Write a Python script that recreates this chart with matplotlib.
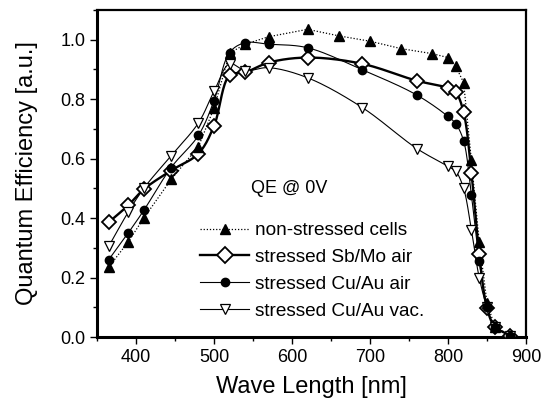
import numpy as np
import matplotlib
matplotlib.use("Agg")
import matplotlib.pyplot as plt
from matplotlib.ticker import MultipleLocator, FormatStrFormatter

plt.rcParams['font.family'] = ['Liberation Sans', 'DejaVu Sans']

# ---- data ----
x_ns = [365, 390, 410, 445, 480, 500, 520, 540, 570, 620, 660, 700, 740, 780,
        800, 810, 820, 830, 840, 850, 860, 880]
y_ns = [0.235, 0.32, 0.40, 0.53, 0.64, 0.77, 0.955, 0.985, 1.01, 1.035, 1.013,
        0.995, 0.97, 0.953, 0.94, 0.91, 0.856, 0.594, 0.32, 0.115, 0.035, 0.005]

x_st = [365, 390, 410, 445, 480, 500, 520, 540, 570, 620, 690, 760, 800, 810,
        820, 830, 840, 850, 860, 880]
y_sbmo = [0.386, 0.443, 0.497, 0.56, 0.617, 0.71, 0.88, 0.89, 0.923, 0.94,
          0.919, 0.862, 0.838, 0.823, 0.756, 0.553, 0.28, 0.098, 0.035, 0.005]
y_cuau_air = [0.26, 0.35, 0.426, 0.57, 0.678, 0.795, 0.957, 0.99, 0.985, 0.973,
              0.899, 0.814, 0.742, 0.717, 0.66, 0.477, 0.255, 0.10, 0.035, 0.005]
y_cuau_vac = [0.305, 0.42, 0.50, 0.61, 0.72, 0.826, 0.919, 0.896, 0.906, 0.872,
              0.772, 0.634, 0.574, 0.557, 0.50, 0.36, 0.20, 0.10, 0.035, 0.005]

labels = ["non-stressed cells", "stressed Sb/Mo air",
          "stressed Cu/Au air", "stressed Cu/Au vac."]


def catmull_rom(x, y, n=20):
    x = np.asarray(x, float)
    y = np.asarray(y, float)
    sx = (x - x.min()) / 550.0 * 429
    sy = y / 1.1 * 327
    P = np.column_stack([sx, sy])
    P = np.vstack([2 * P[0] - P[1], P, 2 * P[-1] - P[-2]])
    out = []
    for i in range(1, len(P) - 2):
        p0, p1, p2, p3 = P[i - 1], P[i], P[i + 1], P[i + 2]
        t0 = 0.0
        t1 = t0 + np.linalg.norm(p1 - p0) ** 0.5
        t2 = t1 + np.linalg.norm(p2 - p1) ** 0.5
        t3 = t2 + np.linalg.norm(p3 - p2) ** 0.5
        t = np.linspace(t1, t2, n, endpoint=False)[:, None]
        a1 = (t1 - t) / (t1 - t0) * p0 + (t - t0) / (t1 - t0) * p1
        a2 = (t2 - t) / (t2 - t1) * p1 + (t - t1) / (t2 - t1) * p2
        a3 = (t3 - t) / (t3 - t2) * p2 + (t - t2) / (t3 - t2) * p3
        b1 = (t2 - t) / (t2 - t0) * a1 + (t - t0) / (t2 - t0) * a2
        b2 = (t3 - t) / (t3 - t1) * a2 + (t - t1) / (t3 - t1) * a3
        c = (t2 - t) / (t2 - t1) * b1 + (t - t1) / (t2 - t1) * b2
        out.append(c)
    out.append(P[-2][None, :])
    C = np.vstack(out)
    return C[:, 0] / 429 * 550.0 + x.min(), C[:, 1] / 327 * 1.1


fig = plt.figure(figsize=(5.42, 3.99), dpi=100)
ax = fig.add_axes([97 / 542, 62 / 399, 429 / 542, 327 / 399])

ax.plot(x_ns, y_ns, ls=(0, (1, 1.5)), lw=0.9, color='black', zorder=2)
ax.plot(x_ns, y_ns, ls='none', marker='^', ms=7.5, mfc='black', mec='black', zorder=5)

sx, sy = catmull_rom(x_st, y_sbmo)
ax.plot(sx, sy, '-', lw=1.7, color='black', zorder=2)
ax.plot(x_st, y_sbmo, ls='none', marker='D', ms=7.5, mfc='white', mec='black', mew=1.3, zorder=4)

sx, sy = catmull_rom(x_st, y_cuau_air)
ax.plot(sx, sy, '-', lw=0.8, color='black', zorder=2)
ax.plot(x_st, y_cuau_air, ls='none', marker='o', ms=6, mfc='black', mec='black', zorder=5)

sx, sy = catmull_rom(x_st, y_cuau_vac)
ax.plot(sx, sy, '-', lw=0.8, color='black', zorder=2)
ax.plot(x_st, y_cuau_vac, ls='none', marker='v', ms=7.5, mfc='white', mec='black', mew=0.9, zorder=4)

h1, = ax.plot([], [], ls=(0, (1, 1.5)), lw=0.9, color='black', marker='^', ms=7.5, mfc='black')
h2, = ax.plot([], [], '-', lw=1.7, color='black', marker='D', ms=8, mfc='white', mew=1.3)
h3, = ax.plot([], [], '-', lw=0.8, color='black', marker='o', ms=6, mfc='black')
h4, = ax.plot([], [], '-', lw=0.8, color='black', marker='v', ms=7.5, mfc='white', mew=0.9)
ax.legend([h1, h2, h3, h4], labels, loc='upper left',
          bbox_to_anchor=(200 / 542, (399 - 222) / 399), bbox_transform=fig.transFigure,
          frameon=False, fontsize=13.7, handlelength=2.6, handletextpad=0.3,
          labelspacing=0.5, borderpad=0, borderaxespad=0)

ax.text(548, 0.50, "QE @ 0V", fontsize=13, va='center', ha='left')

ax.set_xlim(350, 900)
ax.set_ylim(0, 1.1)
ax.xaxis.set_major_locator(MultipleLocator(100))
ax.xaxis.set_minor_locator(MultipleLocator(50))
ax.yaxis.set_major_locator(MultipleLocator(0.2))
ax.yaxis.set_minor_locator(MultipleLocator(0.1))
ax.yaxis.set_major_formatter(FormatStrFormatter('%.1f'))
ax.tick_params(which='both', direction='out', labelsize=13, width=1.0)
ax.tick_params(which='major', length=5)
ax.tick_params(which='minor', length=3)
for side in ['left', 'bottom']:
    ax.spines[side].set_linewidth(2.2)
for side in ['top', 'right']:
    ax.spines[side].set_linewidth(1.6)

ax.set_xlabel("Wave Length [nm]", fontsize=17, labelpad=7)
ax.set_ylabel("Quantum Efficiency [a.u.]", fontsize=17, labelpad=16)

fig.savefig("out.png", dpi=100)
